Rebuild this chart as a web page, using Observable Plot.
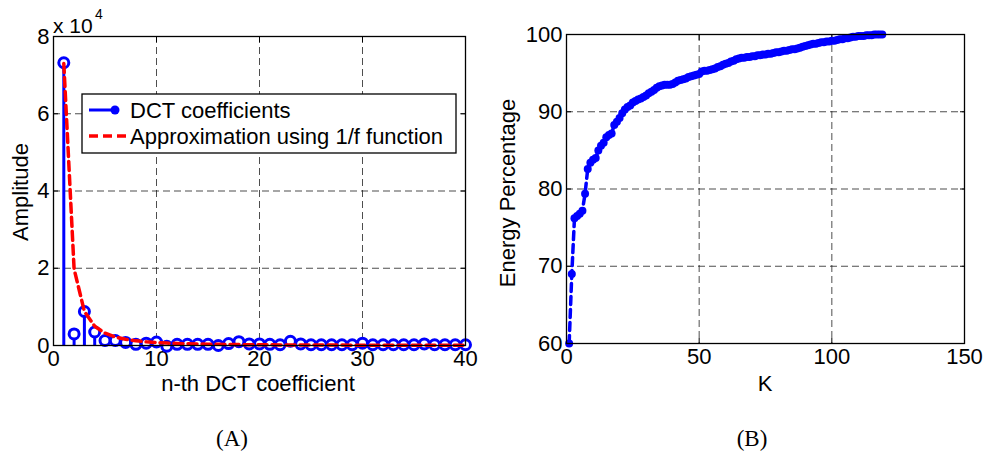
<!DOCTYPE html>
<html><head><meta charset="utf-8">
<script src="https://cdn.jsdelivr.net/npm/d3@7"></script>
<script src="https://cdn.jsdelivr.net/npm/@observablehq/plot@0.6"></script>
<style>
body{margin:0;background:#fff;}
#wrap{position:relative;width:986px;height:460px;overflow:hidden;font-family:"Liberation Sans",Arial,sans-serif;background:#fff;}
#wrap > svg{position:absolute;top:0;}
</style></head><body><div id="wrap"></div>
<script>
// ---- Panel A data ----
const dctIndex = [1,2,3,4,5,6,7,8,9,10,11,12,13,14,15,16,17,18,19,20,21,22,23,24,25,26,27,28,29,30,31,32,33,34,35,36,37,38,39,40];
const dctValues = [73200,3000,8800,3500,1300,1300,800,300,600,900,-200,300,300,300,300,0,500,1000,400,400,300,200,1100,400,200,200,200,200,200,600,200,200,200,200,200,400,200,200,200,200];
const approxValues = [73000,19800,8800,5000,3200,2200,1600,1200,950,770,630,530,450,390,340,300,270,240,210,190,175,160,145,135,125,115,105,100,92,86,80,75,70,66,62,59,56,53,50,47];
const xTicksA = [0,10,20,30,40];
const yTicksA = [0,20000,40000,60000,80000];
const legendLabels = ["DCT coefficients","Approximation using 1/f function"];

// ---- Panel B data ----
const energyK = d3.range(1,120);
const energyValues = [60.0,69.0,76.2,76.5,76.8,77.2,79.4,82.6,83.4,83.8,84.0,85.0,85.6,86.0,86.7,87.0,87.2,88.3,88.7,89.2,
89.8,90.3,90.6,90.8,91.2,91.4,91.6,91.7,91.9,92.1,92.4,92.6,92.8,93.1,93.3,93.4,93.5,93.5,93.5,93.6,
93.8,94.0,94.1,94.2,94.3,94.5,94.6,94.7,94.8,94.9,95.2,95.3,95.3,95.4,95.5,95.6,95.8,95.9,96.1,96.2,
96.3,96.5,96.6,96.8,96.9,97.0,97.0,97.1,97.1,97.2,97.2,97.3,97.3,97.4,97.4,97.5,97.5,97.6,97.7,97.7,
97.8,97.9,97.9,98.0,98.1,98.1,98.2,98.3,98.4,98.5,98.6,98.7,98.8,98.8,98.9,99.0,99.0,99.1,99.1,99.2,
99.2,99.3,99.4,99.4,99.5,99.5,99.6,99.7,99.7,99.8,99.8,99.8,99.9,99.9,99.9,100.0,100.0,100.0,100.0];
const xTicksB = [0,50,100,150];
const yTicksB = [60,70,80,90,100];

const blue = "#0000ff", red = "#ff0000";
const font = "'Liberation Sans', Arial, sans-serif";
const fs = 22;
const style = {fontFamily: font, fontSize: fs + "px", color: "#000", background: "transparent", overflow: "visible"};
const gridStyle = {stroke: "#222", strokeOpacity: 0.8, strokeDasharray: "7,4", strokeWidth: 1};
const blank = () => "";

const dctData = dctIndex.map((n, i) => ({n, v: dctValues[i], a: approxValues[i]}));
const energyData = energyK.map((k, i) => ({k, v: energyValues[i]}));

const wrap = document.getElementById("wrap");

const plotA = Plot.plot({
  width: 493, height: 400,
  marginLeft: 53, marginRight: 28, marginTop: 36, marginBottom: 55,
  style,
  x: {domain: [0, 40], label: null},
  y: {domain: [0, 80000], label: null},
  marks: [
    Plot.gridX({ticks: xTicksA.slice(1, -1), ...gridStyle}),
    Plot.gridY({ticks: yTicksA.slice(1, -1), ...gridStyle}),
    Plot.axisX({ticks: xTicksA, tickSize: 0, tickPadding: 5, label: null, fontSize: fs}),
    Plot.axisX({ticks: xTicksA, tickSize: -5, tickFormat: blank, label: null}),
    Plot.axisX({anchor: "top", ticks: xTicksA, tickSize: -5, tickFormat: blank, label: null}),
    Plot.axisY({ticks: yTicksA, tickSize: 0, tickPadding: 4, label: null, fontSize: fs, tickFormat: d => d / 10000}),
    Plot.axisY({ticks: yTicksA, tickSize: -5, tickFormat: blank, label: null}),
    Plot.axisY({anchor: "right", ticks: yTicksA, tickSize: -5, tickFormat: blank, label: null}),
    Plot.ruleX(dctData, {x: "n", y1: 0, y2: "v", stroke: blue, strokeWidth: 3}),
    Plot.dot(dctData, {x: "n", y: "v", r: 5, stroke: blue, strokeWidth: 3, fill: "white"}),
    Plot.line(dctData, {x: "n", y: "a", stroke: red, strokeWidth: 3.5, strokeDasharray: "9,5"}),
    Plot.frame({stroke: "#000", strokeWidth: 1.3})
  ]
});
plotA.style.left = "0px";
wrap.appendChild(plotA);

const plotB = Plot.plot({
  width: 493, height: 400,
  marginLeft: 73, marginRight: 22, marginTop: 34, marginBottom: 57,
  style,
  x: {domain: [0, 150], label: null},
  y: {domain: [60, 100], label: null},
  marks: [
    Plot.gridX({ticks: xTicksB.slice(1, -1), ...gridStyle}),
    Plot.gridY({ticks: yTicksB.slice(1, -1), ...gridStyle}),
    Plot.axisX({ticks: xTicksB, tickSize: 0, tickPadding: 5, label: null, fontSize: fs}),
    Plot.axisX({ticks: xTicksB, tickSize: -5, tickFormat: blank, label: null}),
    Plot.axisX({anchor: "top", ticks: xTicksB, tickSize: -5, tickFormat: blank, label: null}),
    Plot.axisY({ticks: yTicksB, tickSize: 0, tickPadding: 4, label: null, fontSize: fs}),
    Plot.axisY({ticks: yTicksB, tickSize: -5, tickFormat: blank, label: null}),
    Plot.axisY({anchor: "right", ticks: yTicksB, tickSize: -5, tickFormat: blank, label: null}),
    Plot.line(energyData, {x: "k", y: "v", stroke: blue, strokeWidth: 3.5, strokeDasharray: "8,5"}),
    Plot.dot(energyData, {x: "k", y: "v", r: 4, fill: blue}),
    Plot.frame({stroke: "#000", strokeWidth: 1.3})
  ]
});
plotB.style.left = "493px";
wrap.appendChild(plotB);

// ---- overlay: titles, labels, legend ----
const ns = "http://www.w3.org/2000/svg";
const ov = document.createElementNS(ns, "svg");
ov.setAttribute("width", 986); ov.setAttribute("height", 460);
ov.style.left = "0px"; ov.style.pointerEvents = "none";
wrap.appendChild(ov);
function el(tag, attrs, text) {
  const e = document.createElementNS(ns, tag);
  for (const k in attrs) e.setAttribute(k, attrs[k]);
  if (text != null) e.textContent = text;
  ov.appendChild(e);
  return e;
}
const tf = {"font-family": font, "font-size": fs, fill: "#000"};
el("text", {...tf, x: 258, y: 391, "text-anchor": "middle"}, "n-th DCT coefficient");
el("text", {...tf, x: 765, y: 391, "text-anchor": "middle"}, "K");
el("text", {...tf, "text-anchor": "middle", transform: "translate(28,192) rotate(-90)"}, "Amplitude");
el("text", {...tf, "text-anchor": "middle", transform: "translate(515,193) rotate(-90)"}, "Energy Percentage");
el("text", {...tf, "font-size": 21, x: 53, y: 33}, "x 10");
el("text", {...tf, "font-size": 14, x: 95, y: 19}, "4");
el("text", {"font-family": "'Liberation Serif','Times New Roman',serif", "font-size": 23, x: 232, y: 446, "text-anchor": "middle"}, "(A)");
el("text", {"font-family": "'Liberation Serif','Times New Roman',serif", "font-size": 23, x: 752, y: 446, "text-anchor": "middle"}, "(B)");
// legend
el("rect", {x: 82, y: 94, width: 374, height: 59, fill: "#fff", stroke: "#000", "stroke-width": 1.3});
el("line", {x1: 89, x2: 119, y1: 110, y2: 110, stroke: blue, "stroke-width": 3});
el("circle", {cx: 115, cy: 110, r: 4.5, fill: blue});
el("text", {...tf, x: 130, y: 118}, legendLabels[0]);
el("line", {x1: 89, x2: 126, y1: 136, y2: 136, stroke: red, "stroke-width": 3.5, "stroke-dasharray": "9,5"});
el("text", {...tf, x: 130, y: 144}, legendLabels[1]);
</script></body></html>
